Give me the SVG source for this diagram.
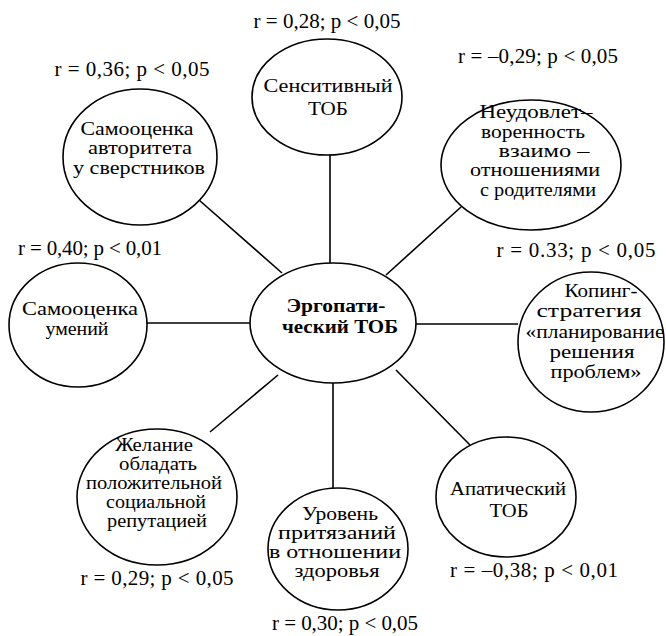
<svg xmlns="http://www.w3.org/2000/svg" width="666" height="636" viewBox="0 0 666 636">
<style>
.n{fill:#fff;stroke:#000;stroke-width:1.6}
.c{stroke:#000;stroke-width:1.6;fill:none}
text{font-family:"Liberation Serif","Times New Roman",serif;font-size:18px;fill:#000;text-anchor:middle}
.b{font-weight:bold}
.l{font-size:21px}
</style>
<rect width="666" height="636" fill="#fff"/>
<g id="connectors">
<line class="c" x1="330" y1="155" x2="330" y2="263"/>
<line class="c" x1="199" y1="200" x2="282" y2="273"/>
<line class="c" x1="461" y1="207" x2="386" y2="275"/>
<line class="c" x1="147" y1="323" x2="250" y2="323"/>
<line class="c" x1="416" y1="324" x2="518" y2="324"/>
<line class="c" x1="210" y1="432" x2="278" y2="375"/>
<line class="c" x1="333" y1="383" x2="333" y2="488"/>
<line class="c" x1="470" y1="445" x2="396" y2="370"/>
</g>
<g id="center">
<ellipse class="n" cx="333" cy="323" rx="83" ry="60"/>
<text class="b" x="336" y="312" textLength="99" lengthAdjust="spacingAndGlyphs">Эргопати-</text>
<text class="b" x="340" y="333" textLength="116" lengthAdjust="spacingAndGlyphs">ческий ТОБ</text>
</g>
<g id="sensitive">
<ellipse class="n" cx="327" cy="97" rx="75" ry="58"/>
<text x="328" y="92" textLength="129" lengthAdjust="spacingAndGlyphs">Сенситивный</text>
<text x="328" y="115" textLength="40" lengthAdjust="spacingAndGlyphs">ТОБ</text>
<text class="l" x="327" y="28" textLength="147">r = 0,28; p &lt; 0,05</text>
</g>
<g id="authority">
<ellipse class="n" cx="140" cy="157" rx="77" ry="68"/>
<text x="137" y="135" textLength="113" lengthAdjust="spacingAndGlyphs">Самооценка</text>
<text x="140" y="154" textLength="104" lengthAdjust="spacingAndGlyphs">авторитета</text>
<text x="139" y="174" textLength="132" lengthAdjust="spacingAndGlyphs">у сверстников</text>
<text class="l" x="132" y="76" textLength="155">r = 0,36; p &lt; 0,05</text>
</g>
<g id="dissatisfaction">
<ellipse class="n" cx="531" cy="165" rx="90" ry="65"/>
<text x="536" y="118" textLength="113" lengthAdjust="spacingAndGlyphs">Неудовлет–</text>
<text x="533" y="138" textLength="104" lengthAdjust="spacingAndGlyphs">воренность</text>
<text x="544" y="157" textLength="91" lengthAdjust="spacingAndGlyphs">взаимо –</text>
<text x="535" y="176" textLength="130" lengthAdjust="spacingAndGlyphs">отношениями</text>
<text x="538" y="196" textLength="116" lengthAdjust="spacingAndGlyphs">с родителями</text>
<text class="l" x="538" y="63" textLength="160">r = –0,29; p &lt; 0,05</text>
</g>
<g id="skills">
<ellipse class="n" cx="78" cy="325" rx="69" ry="62"/>
<text x="80" y="315" textLength="116" lengthAdjust="spacingAndGlyphs">Самооценка</text>
<text x="77" y="335" textLength="63" lengthAdjust="spacingAndGlyphs">умений</text>
<text class="l" x="90" y="255" textLength="144">r = 0,40; p &lt; 0,01</text>
</g>
<g id="coping">
<ellipse class="n" cx="591" cy="342" rx="73" ry="70"/>
<text x="601" y="297" textLength="73" lengthAdjust="spacingAndGlyphs">Копинг-</text>
<text x="589" y="317" textLength="105" lengthAdjust="spacingAndGlyphs">стратегия</text>
<text x="595" y="338" textLength="139" lengthAdjust="spacingAndGlyphs">«планирование</text>
<text x="592" y="358" textLength="85" lengthAdjust="spacingAndGlyphs">решения</text>
<text x="596" y="378" textLength="91" lengthAdjust="spacingAndGlyphs">проблем»</text>
<text class="l" x="576" y="257" textLength="159">r = 0.33; p &lt; 0,05</text>
</g>
<g id="reputation">
<ellipse class="n" cx="157" cy="497" rx="80" ry="68"/>
<text x="154" y="451" textLength="78" lengthAdjust="spacingAndGlyphs">Желание</text>
<text x="158" y="470" textLength="78" lengthAdjust="spacingAndGlyphs">обладать</text>
<text x="154" y="489" textLength="136" lengthAdjust="spacingAndGlyphs">положительной</text>
<text x="156" y="508" textLength="100" lengthAdjust="spacingAndGlyphs">социальной</text>
<text x="157" y="527" textLength="100" lengthAdjust="spacingAndGlyphs">репутацией</text>
<text class="l" x="157" y="585" textLength="153">r = 0,29; p &lt; 0,05</text>
</g>
<g id="health">
<ellipse class="n" cx="338" cy="549" rx="70" ry="61"/>
<text x="340" y="520" textLength="76" lengthAdjust="spacingAndGlyphs">Уровень</text>
<text x="337" y="539" textLength="118" lengthAdjust="spacingAndGlyphs">притязаний</text>
<text x="335" y="558" textLength="132" lengthAdjust="spacingAndGlyphs">в отношении</text>
<text x="337" y="577" textLength="85" lengthAdjust="spacingAndGlyphs">здоровья</text>
<text class="l" x="345" y="630" textLength="146">r = 0,30; p &lt; 0,05</text>
</g>
<g id="apathetic">
<ellipse class="n" cx="506" cy="497" rx="70" ry="60"/>
<text x="508" y="495" textLength="116" lengthAdjust="spacingAndGlyphs">Апатический</text>
<text x="509" y="517" textLength="39" lengthAdjust="spacingAndGlyphs">ТОБ</text>
<text class="l" x="534" y="577" textLength="168">r = –0,38; p &lt; 0,01</text>
</g>
</svg>
